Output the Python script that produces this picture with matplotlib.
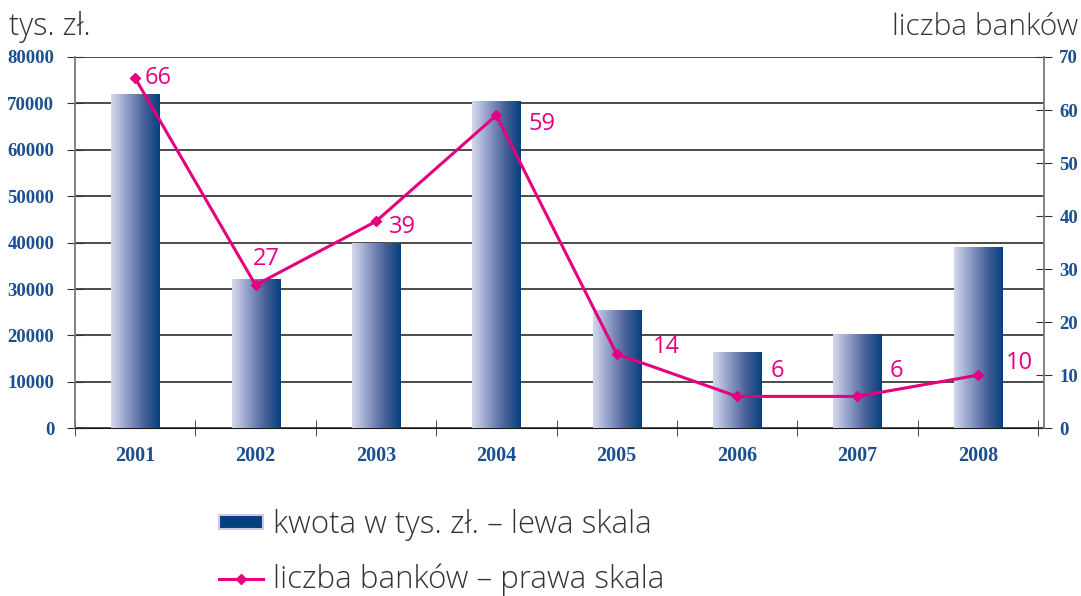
import numpy as np
import matplotlib
matplotlib.use('Agg')
import matplotlib.pyplot as plt
from matplotlib.lines import Line2D
from matplotlib.patches import Patch
from matplotlib.colors import LinearSegmentedColormap

years = ['2001', '2002', '2003', '2004', '2005', '2006', '2007', '2008']
kwota = [72000, 32200, 40000, 70500, 25500, 16500, 20300, 39000]   # tys. zl, left axis
banki = [66, 27, 39, 59, 14, 6, 6, 10]                              # liczba bankow, right axis

pink = '#e4007f'
blue_txt = '#1b4f8f'
grey_txt = '#333333'
# label offsets in points (dx, dy) for the line values
offs = [(7, 0), (-2, 19), (9, -4), (23, -6), (26, 5), (24, 18), (23, 18), (20, 9)]

fig = plt.figure(figsize=(10.81, 5.96), dpi=100)
ax = fig.add_axes([0.0694, 0.2815, 0.8964, 0.6229])
x = np.arange(len(years))

grad = LinearSegmentedColormap.from_list('g', ['#d6d9ec', '#8f9cc6', '#4a6299', '#063f7e'])
bars = ax.bar(x, kwota, width=0.4, color='none', edgecolor='none', zorder=3)
img = np.linspace(0, 1, 256).reshape(1, -1)
for b in bars:
    x0, w, h = b.get_x(), b.get_width(), b.get_height()
    im = ax.imshow(img, cmap=grad, extent=[x0, x0 + w, 0, h], aspect='auto', zorder=3)
    im.set_clip_path(b)

ax.set_xlim(-0.5, 7.55)
ax.set_ylim(0, 80000)
ax.set_yticks(range(0, 80001, 10000))
ax.set_yticklabels([str(v) for v in range(0, 80001, 10000)])
ax.yaxis.grid(True, color='#1a1a1a', linewidth=1.1, zorder=0)
ax.set_axisbelow(True)
ax.set_xticks(x)
ax.set_xticklabels(years)
ax.set_xticks(np.arange(-0.5, 8, 1), minor=True)
ax.tick_params(axis='x', which='major', length=0, pad=13)
ax.tick_params(axis='x', which='minor', direction='inout', length=12, color='#333333')
ax.tick_params(axis='y', direction='inout', length=12, color='#333333', pad=9)
for lab in ax.get_yticklabels():
    lab.set_fontfamily('Liberation Serif')
    lab.set_fontweight('bold')
    lab.set_fontsize(13.5)
    lab.set_color(blue_txt)
for lab in ax.get_xticklabels():
    lab.set_fontfamily('Liberation Serif')
    lab.set_fontweight('bold')
    lab.set_fontsize(14.5)
    lab.set_color(blue_txt)
ax.spines['top'].set_visible(False)
ax.spines['right'].set_visible(False)
ax.spines['left'].set_color('#777777')
ax.spines['left'].set_linewidth(1.3)
ax.spines['bottom'].set_color('#1a1a1a')

ax2 = ax.twinx()
ax2.set_ylim(0, 70)
ax2.set_yticks(range(0, 71, 10))
ax2.plot(x, banki, color=pink, linewidth=2.2, marker='D', markersize=5.5, zorder=5)
for i, v in enumerate(banki):
    ax2.annotate(str(v), (x[i], v), xytext=offs[i], textcoords='offset points',
                 ha='left', va='center', color=pink, fontsize=17, family='Open Sans')
ax2.tick_params(axis='y', direction='inout', length=12, color='#333333', pad=5)
for lab in ax2.get_yticklabels():
    lab.set_fontfamily('Liberation Serif')
    lab.set_fontweight('bold')
    lab.set_fontsize(13.5)
    lab.set_color(blue_txt)
for s in ['top', 'left', 'bottom']:
    ax2.spines[s].set_visible(False)
ax2.spines['right'].set_color('#777777')
ax2.spines['right'].set_linewidth(1.3)

fig.text(0.008, 0.955, 'tys. zł.', fontsize=22, color=grey_txt, family='Open Sans',
         fontweight='light', va='center')
fig.text(0.997, 0.955, 'liczba banków', fontsize=21.5, color=grey_txt, family='Open Sans',
         fontweight='light', va='center', ha='right')

handles = [Patch(facecolor='#063f7e', edgecolor='#c8cde4', linewidth=1.5),
           Line2D([], [], color=pink, linewidth=2.2, marker='D', markersize=5.5)]
fig.legend(handles, ['kwota w tys. zł. – lewa skala', 'liczba banków – prawa skala'],
           loc='upper left', bbox_to_anchor=(0.177, 0.193), frameon=False,
           prop={'family': 'Open Sans', 'size': 22.5, 'weight': 'light'}, labelcolor=grey_txt,
           handlelength=1.4, handleheight=0.33, handletextpad=0.3, labelspacing=0.72)

fig.savefig('out.png', dpi=100)
